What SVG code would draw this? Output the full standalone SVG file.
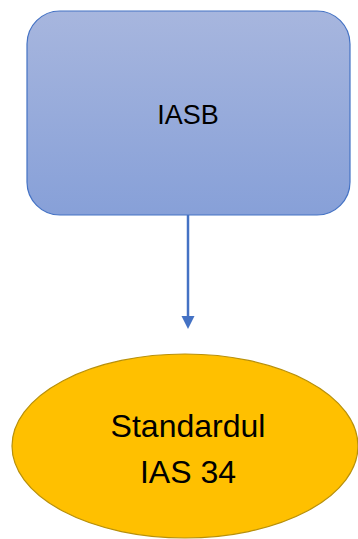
<svg xmlns="http://www.w3.org/2000/svg" width="358" height="539" viewBox="0 0 358 539">
<defs>
<linearGradient id="g1" x1="0" y1="0" x2="0" y2="1">
<stop offset="0" stop-color="#A7B6DE"/>
<stop offset="1" stop-color="#87A0D8"/>
</linearGradient>
<style>
.lbl{font-family:"Liberation Sans",Arial,sans-serif;fill:#000;text-anchor:middle}
</style>
</defs>
<g id="connectors">
<line x1="188" y1="215" x2="188" y2="316" stroke="#4472C4" stroke-width="2.5"/>
<path d="M181.5,316 L194.5,316 L188,329 Z" fill="#4472C4"/>
</g>
<g id="iasb">
<rect x="27" y="11" width="323" height="204" rx="33" ry="33" fill="url(#g1)" stroke="#4472C4" stroke-width="1.2"/>
<text class="lbl" x="188" y="124" font-size="27">IASB</text>
</g>
<g id="ias34">
<ellipse cx="185" cy="446" rx="173" ry="92" fill="#FFC000" stroke="#B8900A" stroke-width="1.2"/>
<text class="lbl" x="188" y="437" font-size="32">Standardul</text>
<text class="lbl" x="188" y="483" font-size="32">IAS 34</text>
</g>
</svg>
